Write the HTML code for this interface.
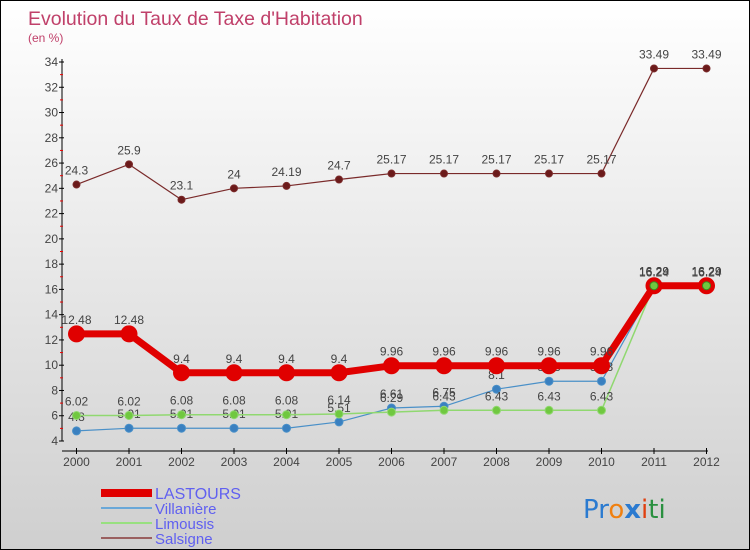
<!DOCTYPE html>
<html><head><meta charset="utf-8"><style>
body{margin:0;}
#wrap{position:relative;width:748px;height:548px;border:1px solid #000;background:linear-gradient(#ffffff,#cfcfcf);font-family:"Liberation Sans",sans-serif;overflow:hidden}
svg{position:absolute;left:0;top:0}
</style></head><body>
<div id="wrap">
<svg id="c" width="750" height="550"></svg>
</div>
<script>
const years=[2000,2001,2002,2003,2004,2005,2006,2007,2008,2009,2010,2011,2012];
const lastours=[12.48,12.48,9.4,9.4,9.4,9.4,9.96,9.96,9.96,9.96,9.96,16.29,16.29];
const villaniere=[4.8,5.01,5.01,5.01,5.01,5.51,6.61,6.75,8.1,8.73,8.73,16.24,16.24];
const limousis=[6.02,6.02,6.08,6.08,6.08,6.14,6.29,6.43,6.43,6.43,6.43,16.29,16.29];
const salsigne=[24.3,25.9,23.1,24,24.19,24.7,25.17,25.17,25.17,25.17,25.17,33.49,33.49];
const yTicks=[4,6,8,10,12,14,16,18,20,22,24,26,28,30,32,34];
const NS="http://www.w3.org/2000/svg";
const svg=document.getElementById('c');
function X(i){return 75.5+i*52.5;}
function Y(v){return 440-(v-4)*(379/30);}
function mk(t,a,parent){const e=document.createElementNS(NS,t);for(const k in a)e.setAttribute(k,a[k]);(parent||svg).appendChild(e);return e;}
function txt(x,y,s,a,parent){const e=mk('text',Object.assign({x:x,y:y},a),parent);e.textContent=s;return e;}
let t=txt(27,24,"Evolution du Taux de Taxe d'Habitation",{'font-size':19.5,fill:'#c0406a'});


t=txt(27,41,"(en %)",{'font-size':12,fill:'#c0406a'});


let ax=mk('line',{x1:61,y1:58,x2:61,y2:440,stroke:'#000'});


ax=mk('line',{x1:61,y1:450,x2:707,y2:450,stroke:'#000'});


yTicks.forEach((v,i)=>{
  mk('line',{x1:58,y1:Y(v),x2:63,y2:Y(v),stroke:'#000'});
  if(i<yTicks.length-1) mk('line',{x1:59,y1:Y(v+1),x2:62,y2:Y(v+1),stroke:'#e00'});
  const l=txt(57,Y(v)+4,String(v),{'font-size':12,fill:'#444','text-anchor':'end'});
  
  
});
years.forEach((y,i)=>{
  mk('line',{x1:X(i),y1:447,x2:X(i),y2:453,stroke:'#000'});
  const l=txt(X(i),465,String(y),{'font-size':12,fill:'#444','text-anchor':'middle'});
  
  
});
function series(vals,color,w,r,fill,name){
  const g=mk('g',{});
  
  
  mk('polyline',{points:vals.map((v,i)=>X(i)+','+Y(v)).join(' '),fill:'none',stroke:color,'stroke-width':w,'stroke-linejoin':'round'},g);
  vals.forEach((v,i)=>{
    const c=mk('circle',{cx:X(i),cy:Y(v),r:r,fill:fill,stroke:color,'stroke-width':1},g);
    
    
    txt(X(i),Y(v)-10,String(v),{'font-size':12,fill:'#444','text-anchor':'middle'},g);
  });
}
series(salsigne,'#7a2a2a',1.2,3.5,'#6b1a1a','salsigne');
series(villaniere,'#4a90c8',1.2,4,'#3a80c0','villaniere');
series(limousis,'#90d870',1.5,4,'#70c840','limousis');
series(lastours,'#e00000',7,8,'#e00000','lastours');
[11,12].forEach(i=>mk('circle',{cx:X(i),cy:Y(limousis[i]),r:4,fill:'#70c840',stroke:'#3a8a20'}));
const legend=[['LASTOURS','#e00000',8],['Villanière','#6aa8d8',2],['Limousis','#98e080',2],['Salsigne','#9a6060',2]];
legend.forEach((L,i)=>{
  const y=492+i*15;
  const g=mk('g',{});
  
  
  mk('line',{x1:100,y1:y,x2:151,y2:y,stroke:L[1],'stroke-width':L[2]},g);
  txt(154,y+6,L[0],{'font-size':i==0?16:15,fill:'#6060f0'},g);
});
const lg=mk('text',{x:582,y:517,'font-size':26,'font-family':'"DejaVu Sans",sans-serif'});


[['Pr','#2a7ad0'],['o','#f08010'],['x','#2a7ad0'],['i','#e04010'],['ti','#2a9040']].forEach(p=>{const s=mk('tspan',{fill:p[1]},lg);s.textContent=p[0];if(p[0]=='x')s.setAttribute('font-weight','bold');});
</script>
</body></html>
